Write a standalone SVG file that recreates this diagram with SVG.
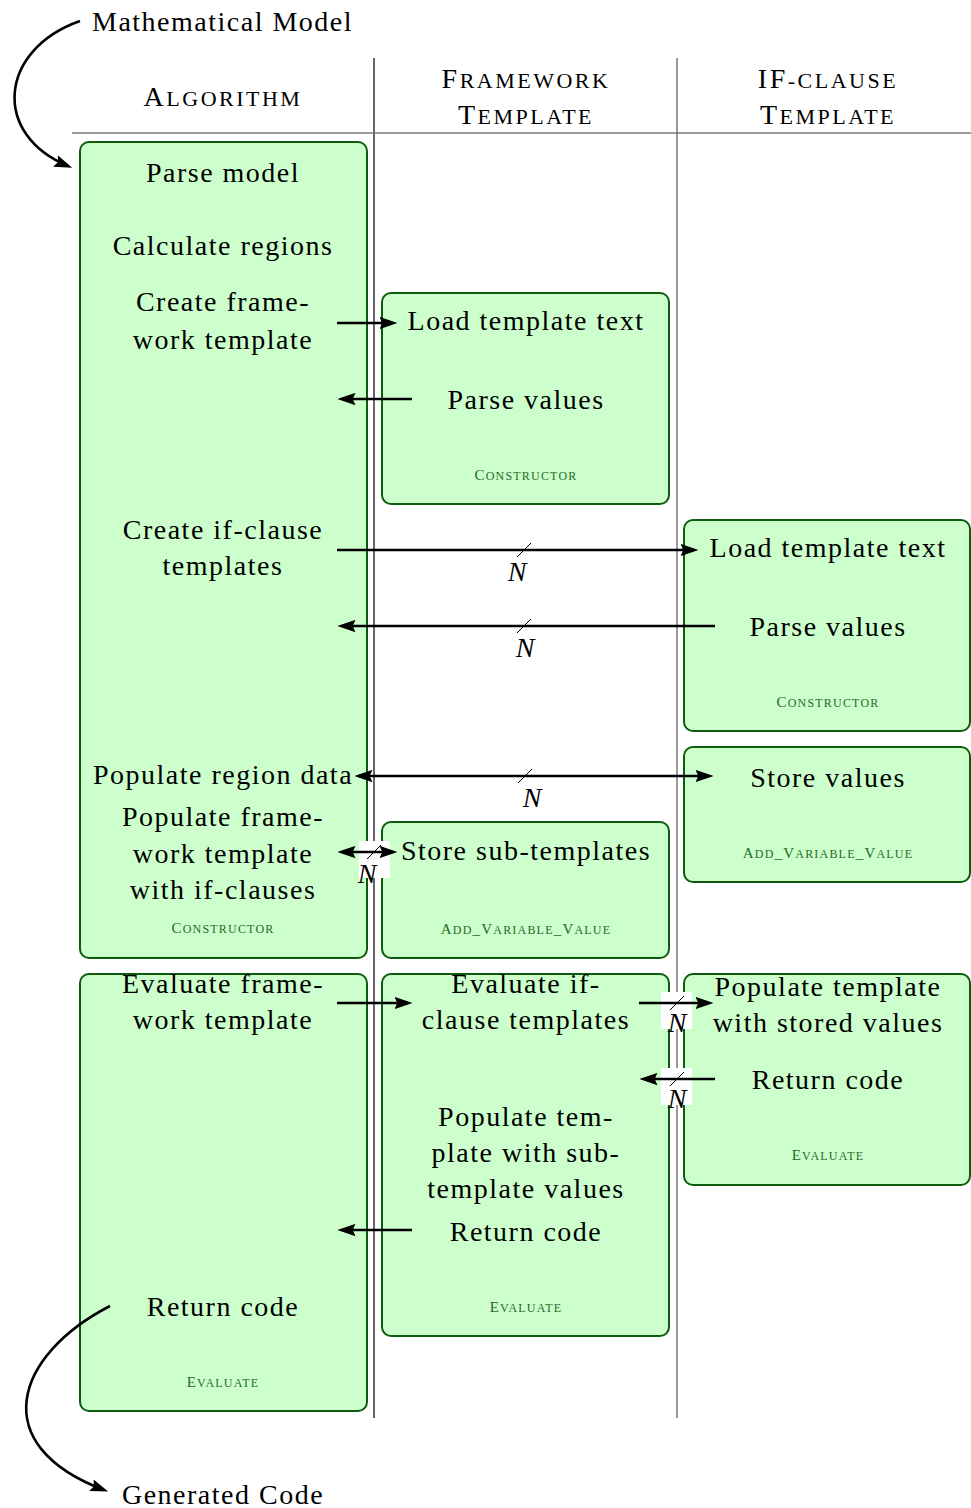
<svg xmlns="http://www.w3.org/2000/svg" width="971" height="1508" viewBox="0 0 971 1508">
<defs>
<marker id="ah" markerUnits="userSpaceOnUse" markerWidth="18" markerHeight="13" viewBox="0 0 16 11" refX="12" refY="5.5" orient="auto-start-reverse">
<path d="M0,0 L16,5.5 L0,11 L2.5,5.5 z" fill="#000"/>
</marker>
<style>
.t{font-family:"Liberation Serif",serif;font-size:28px;letter-spacing:1.5px;text-anchor:middle;fill:#000}
.h{font-family:"Liberation Serif",serif;font-size:28px;letter-spacing:2.5px;text-anchor:middle;fill:#000}
.h .s{font-size:22px}
.g{font-family:"Liberation Serif",serif;font-size:15px;letter-spacing:1.2px;text-anchor:middle;fill:#256b25}
.g .s{font-size:12px}
.n{font-family:"Liberation Serif",serif;font-size:28px;font-style:italic;text-anchor:middle;fill:#000}
.box{fill:#ccffcc;stroke:#0d5c0d;stroke-width:2}
.arr{stroke:#000;stroke-width:2.6;fill:none}
.sl{stroke:#000;stroke-width:1;fill:none}
.wb{fill:#fff;stroke:none}
</style>
</defs>
<rect width="971" height="1508" fill="#fff"/>

<g id="grid">
<line x1="374" y1="58" x2="374" y2="1418" stroke="#000" stroke-width="1.2"/>
<line x1="677" y1="58" x2="677" y2="1418" stroke="#777" stroke-width="1.5"/>
<line x1="72" y1="133" x2="971" y2="133" stroke="#777" stroke-width="1.5"/>
</g>

<g id="headers">
<text class="h" x="223" y="106">A<tspan class="s">LGORITHM</tspan></text>
<text class="h" x="526" y="88">F<tspan class="s">RAMEWORK</tspan></text>
<text class="h" x="526" y="124">T<tspan class="s">EMPLATE</tspan></text>
<text class="h" x="828" y="88">IF<tspan class="s">-CLAUSE</tspan></text>
<text class="h" x="828" y="124">T<tspan class="s">EMPLATE</tspan></text>
</g>

<g id="io">
<text class="t" x="92" y="31" style="text-anchor:start">Mathematical Model</text>
<text class="t" x="223" y="1504">Generated Code</text>
</g>

<g id="alg-constructor">
<rect class="box" x="80" y="142" width="287" height="816" rx="9"/>
<text class="t" x="223" y="182">Parse model</text>
<text class="t" x="223" y="255">Calculate regions</text>
<text class="t" x="223" y="311">Create frame-</text>
<text class="t" x="223" y="349">work template</text>
<text class="t" x="223" y="539">Create if-clause</text>
<text class="t" x="223" y="575">templates</text>
<text class="t" x="223" y="784">Populate region data</text>
<text class="t" x="223" y="826">Populate frame-</text>
<text class="t" x="223" y="863">work template</text>
<text class="t" x="223" y="899">with if-clauses</text>
<text class="g" x="223" y="933">C<tspan class="s">ONSTRUCTOR</tspan></text>
</g>

<g id="fw-constructor">
<rect class="box" x="382" y="293" width="287" height="211" rx="9"/>
<text class="t" x="526" y="330">Load template text</text>
<text class="t" x="526" y="409">Parse values</text>
<text class="g" x="526" y="480">C<tspan class="s">ONSTRUCTOR</tspan></text>
</g>

<g id="if-constructor">
<rect class="box" x="684" y="520" width="286" height="211" rx="9"/>
<text class="t" x="828" y="557">Load template text</text>
<text class="t" x="828" y="636">Parse values</text>
<text class="g" x="828" y="707">C<tspan class="s">ONSTRUCTOR</tspan></text>
</g>

<g id="if-addvar">
<rect class="box" x="684" y="747" width="286" height="135" rx="9"/>
<text class="t" x="828" y="787">Store values</text>
<text class="g" x="828" y="858">A<tspan class="s">DD</tspan>_V<tspan class="s">ARIABLE</tspan>_V<tspan class="s">ALUE</tspan></text>
</g>

<g id="fw-addvar">
<rect class="box" x="382" y="822" width="287" height="136" rx="9"/>
<text class="t" x="526" y="860">Store sub-templates</text>
<text class="g" x="526" y="934">A<tspan class="s">DD</tspan>_V<tspan class="s">ARIABLE</tspan>_V<tspan class="s">ALUE</tspan></text>
</g>

<g id="alg-evaluate">
<rect class="box" x="80" y="974" width="287" height="437" rx="9"/>
<text class="t" x="223" y="993">Evaluate frame-</text>
<text class="t" x="223" y="1029">work template</text>
<text class="t" x="223" y="1316">Return code</text>
<text class="g" x="223" y="1387">E<tspan class="s">VALUATE</tspan></text>
</g>

<g id="fw-evaluate">
<rect class="box" x="382" y="974" width="287" height="362" rx="9"/>
<text class="t" x="526" y="993">Evaluate if-</text>
<text class="t" x="526" y="1029">clause templates</text>
<text class="t" x="526" y="1126">Populate tem-</text>
<text class="t" x="526" y="1162">plate with sub-</text>
<text class="t" x="526" y="1198">template values</text>
<text class="t" x="526" y="1241">Return code</text>
<text class="g" x="526" y="1312">E<tspan class="s">VALUATE</tspan></text>
</g>

<g id="if-evaluate">
<rect class="box" x="684" y="974" width="286" height="211" rx="9"/>
<text class="t" x="828" y="996">Populate template</text>
<text class="t" x="828" y="1032">with stored values</text>
<text class="t" x="828" y="1089">Return code</text>
<text class="g" x="828" y="1160">E<tspan class="s">VALUATE</tspan></text>
</g>

<g id="connectors">
<rect class="wb" x="359" y="841" width="31" height="37"/>
<rect class="wb" x="661" y="992" width="31" height="37"/>
<rect class="wb" x="661" y="1068" width="31" height="37"/>

<path class="arr" d="M80,21 C-2,50 -8,135 68,166" marker-end="url(#ah)"/>
<path class="arr" d="M110,1306 C15,1355 -15,1445 104,1490" marker-end="url(#ah)"/>

<line class="arr" x1="337" y1="323" x2="393" y2="323" marker-end="url(#ah)"/>
<line class="arr" x1="412" y1="399" x2="342" y2="399" marker-end="url(#ah)"/>
<line class="arr" x1="337" y1="550" x2="694" y2="550" marker-end="url(#ah)"/>
<line class="arr" x1="715" y1="626" x2="342" y2="626" marker-end="url(#ah)"/>
<line class="arr" x1="359" y1="776" x2="709" y2="776" marker-start="url(#ah)" marker-end="url(#ah)"/>
<line class="arr" x1="342" y1="852" x2="393" y2="852" marker-start="url(#ah)" marker-end="url(#ah)"/>
<line class="arr" x1="337" y1="1003" x2="408" y2="1003" marker-end="url(#ah)"/>
<line class="arr" x1="639" y1="1003" x2="709" y2="1003" marker-end="url(#ah)"/>
<line class="arr" x1="715" y1="1079" x2="644" y2="1079" marker-end="url(#ah)"/>
<line class="arr" x1="412" y1="1230" x2="342" y2="1230" marker-end="url(#ah)"/>

<line class="sl" x1="517" y1="557" x2="531" y2="543"/>
<line class="sl" x1="517" y1="633" x2="531" y2="619"/>
<line class="sl" x1="518" y1="783" x2="532" y2="769"/>
<line class="sl" x1="367" y1="859" x2="381" y2="845"/>
<line class="sl" x1="670" y1="1010" x2="684" y2="996"/>
<line class="sl" x1="670" y1="1086" x2="684" y2="1072"/>

<text class="n" x="517" y="581">N</text>
<text class="n" x="525" y="657">N</text>
<text class="n" x="532" y="807">N</text>
<text class="n" x="367" y="883">N</text>
<text class="n" x="677" y="1032">N</text>
<text class="n" x="677" y="1108">N</text>
</g>
</svg>
